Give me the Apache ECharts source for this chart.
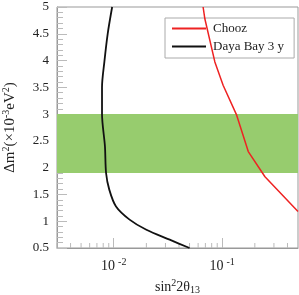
<!DOCTYPE html>
<html>
<head>
<meta charset="utf-8">
<script src="https://cdn.jsdelivr.net/npm/echarts@6/dist/echarts.min.js"></script>
<style>html,body{margin:0;padding:0;background:#fff}#c{width:299px;height:295px}</style>
</head>
<body>
<div id="c"></div>
<script>
// Daya Bay 3 y sensitivity curve
const dayaBayX = [0.00967, 0.0088, 0.0082, 0.0078, 0.0078, 0.0083, 0.0085, 0.0091, 0.0105, 0.0140, 0.0200, 0.0328, 0.0500];
const dayaBayY = [5.0, 4.5, 3.975, 3.5, 3.0, 2.4, 1.9, 1.59, 1.275, 1.03, 0.84, 0.655, 0.5];
// Chooz exclusion curve
const choozX = [0.0667, 0.0692, 0.0856, 0.102, 0.136, 0.174, 0.248, 0.5];
const choozY = [5.0, 4.78, 3.975, 3.54, 2.98, 2.30, 1.83, 1.18];
// allowed band in Δm²
const bandRange = [1.9, 3.0];
// x minor tick values (log axis)
const xMinorTicks = [0.003, 0.004, 0.005, 0.006, 0.007, 0.008, 0.009,
  0.02, 0.03, 0.04, 0.05, 0.06, 0.07, 0.08, 0.09, 0.2, 0.3, 0.4];
const xRange = [0.003, 0.5];
const yRange = [0.5, 5];
const yTickInterval = 0.5;

const FONT = 'Liberation Serif';
const TXT = '#222';
const GRAY = '#999';

function zip(a, b) { return a.map((v, i) => [v, b[i]]); }

const chart = echarts.init(document.getElementById('c'), null, {renderer: 'canvas'});
chart.setOption({
  animation: false,
  grid: {left: 57, right: 1, top: 7, bottom: 47, show: true, borderColor: GRAY, borderWidth: 1,
    backgroundColor: 'transparent', containLabel: false, outerBoundsMode: 'none'},
  legend: {
    data: ['Chooz', 'Daya Bay 3 y'],
    orient: 'vertical',
    left: 165, top: 18,
    itemWidth: 34, itemHeight: 14, itemGap: 5,
    padding: [4, 10, 5, 6],
    borderColor: '#aaa', borderWidth: 1,
    backgroundColor: '#fff',
    itemStyle: {opacity: 0},
    textStyle: {fontFamily: FONT, fontSize: 13, color: TXT, padding: [0, 0, 0, 2]}
  },
  xAxis: {
    type: 'log', logBase: 10, min: xRange[0], max: xRange[1],
    name: 'sin{sup|2}2θ{sub|13}', nameLocation: 'middle', nameGap: 24,
    nameTextStyle: {fontFamily: FONT, fontSize: 14, color: TXT,
      rich: {sup: {fontFamily: FONT, fontSize: 10, color: TXT, padding: [0, 0, 8, 0]},
             sub: {fontFamily: FONT, fontSize: 10, color: TXT, padding: [7, 0, 0, 0]}}},
    axisLine: {lineStyle: {color: GRAY, width: 1}},
    axisTick: {inside: true, length: 10, lineStyle: {color: '#bbb'}},
    splitLine: {show: false},
    axisLabel: {
      margin: 9,
      showMinLabel: false, showMaxLabel: false,
      formatter: function (v) {
        const l = Math.log10(v);
        if (Math.abs(l - Math.round(l)) > 1e-6) return '';
        return '{b|10}{s|' + Math.round(l) + '}';
      },
      rich: {b: {fontFamily: FONT, fontSize: 14, color: TXT},
             s: {fontFamily: FONT, fontSize: 10, color: TXT, padding: [0, 0, 8, 3]}}
    }
  },
  yAxis: {
    type: 'value', min: yRange[0], max: yRange[1], interval: yTickInterval,
    name: 'Δm{sup|2}(×10{sup|-3}eV{sup|2})', nameLocation: 'middle', nameGap: 37, nameRotate: 90,
    nameTextStyle: {fontFamily: FONT, fontSize: 15, color: TXT,
      rich: {sup: {fontFamily: FONT, fontSize: 10, color: TXT, padding: [0, 0, 9, 0]}}},
    axisLine: {show: true, lineStyle: {color: GRAY, width: 1}},
    axisTick: {show: true, inside: true, length: 10, lineStyle: {color: '#bbb'}},
    minorTick: {show: true, splitNumber: 5, length: 6, lineStyle: {color: '#bbb'}},
    splitLine: {show: false},
    axisLabel: {fontFamily: FONT, fontSize: 13, color: TXT, margin: 8,
      formatter: v => String(+v.toFixed(1))}
  },
  series: [
    {
      type: 'line', name: 'band', data: [], z: 1, silent: true,
      markArea: {silent: true, itemStyle: {color: '#97cc6e', opacity: 1},
        data: [[{yAxis: bandRange[0]}, {yAxis: bandRange[1]}]]}
    },
    {
      type: 'custom', name: 'minorTicks', z: 3, silent: true,
      data: xMinorTicks,
      renderItem: function (params, api) {
        const p = api.coord([api.value(0), yRange[0]]);
        return {type: 'line', shape: {x1: p[0], y1: p[1], x2: p[0], y2: p[1] - 5},
          style: {stroke: '#bbb', lineWidth: 1}};
      },
      encode: {x: 0}
    },
    {
      type: 'line', name: 'Chooz', data: zip(choozX, choozY), z: 5,
      symbol: 'none', lineStyle: {color: '#ee2222', width: 1.5}, itemStyle: {color: 'rgba(0,0,0,0)'}
    },
    {
      type: 'line', name: 'Daya Bay 3 y', data: zip(dayaBayX, dayaBayY), z: 5,
      symbol: 'none', smooth: 0.3, lineStyle: {color: '#111', width: 1.8}, itemStyle: {color: 'rgba(0,0,0,0)'}
    }
  ]
});
</script>
</body>
</html>
